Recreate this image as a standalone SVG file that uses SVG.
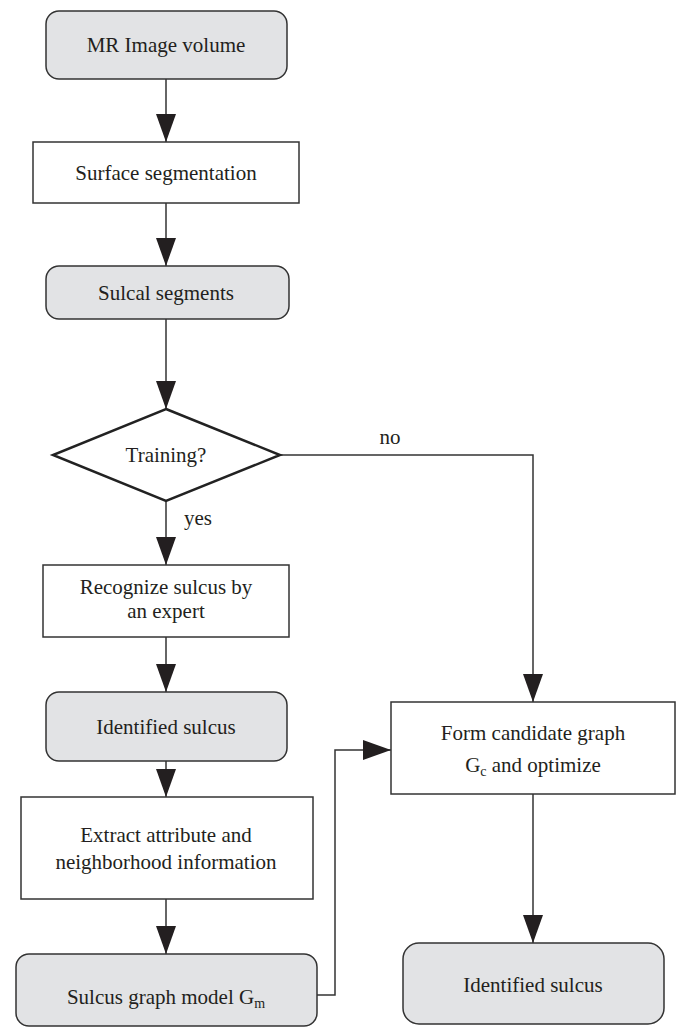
<svg xmlns="http://www.w3.org/2000/svg" width="680" height="1027" viewBox="0 0 680 1027">
<style>
.term{fill:#e2e3e5;stroke:#333;stroke-width:1.5}
.proc{fill:#fff;stroke:#333;stroke-width:1.5}
.dec{fill:#fff;stroke:#222;stroke-width:2.5}
text{font-family:'Liberation Serif','Times New Roman',Times,serif;font-size:21px;fill:#231f20;text-anchor:middle}
.sub{font-size:14px}
.edge{fill:none;stroke:#333;stroke-width:1.5}
</style>
<defs>
<marker id="ah" markerUnits="userSpaceOnUse" viewBox="0 -10 28 20" markerWidth="28" markerHeight="20" refX="28" refY="0" orient="auto">
<path d="M0,-10 L28,0 L0,10 z" fill="#231f20"/>
</marker>
</defs>
<rect width="680" height="1027" fill="#fff"/>
<g id="connectors">
<line class="edge" x1="166" y1="79" x2="166" y2="142" marker-end="url(#ah)"/>
<line class="edge" x1="166" y1="203" x2="166" y2="266" marker-end="url(#ah)"/>
<line class="edge" x1="166" y1="319" x2="166" y2="409" marker-end="url(#ah)"/>
<polyline class="edge" points="280,455 533,455 533,702" marker-end="url(#ah)"/>
<line class="edge" x1="166" y1="501" x2="166" y2="565" marker-end="url(#ah)"/>
<line class="edge" x1="166" y1="637" x2="166" y2="692" marker-end="url(#ah)"/>
<line class="edge" x1="166" y1="761" x2="166" y2="797" marker-end="url(#ah)"/>
<line class="edge" x1="166" y1="899" x2="166" y2="954" marker-end="url(#ah)"/>
<polyline class="edge" points="317,995 335,995 335,750 391,750" marker-end="url(#ah)"/>
<line class="edge" x1="533" y1="794" x2="533" y2="943" marker-end="url(#ah)"/>
<text x="390" y="444" font-family="Liberation Serif">no</text>
<text x="198" y="525" font-family="Liberation Serif">yes</text>
</g>
<g id="n1"><rect class="term" x="46" y="11" width="241" height="68" rx="13"/><text x="166" y="52">MR Image volume</text></g>
<g id="n2"><rect class="proc" x="33" y="142" width="266" height="61"/><text x="166" y="180">Surface segmentation</text></g>
<g id="n3"><rect class="term" x="46" y="266" width="243" height="53" rx="13"/><text x="166" y="300">Sulcal segments</text></g>
<g id="n4"><polygon class="dec" points="166,409 280,455 166,501 53,455"/><text x="166" y="462">Training?</text></g>
<g id="n5"><rect class="proc" x="43" y="565" width="246" height="72"/><text x="166" y="594">Recognize sulcus by</text><text x="166" y="618">an expert</text></g>
<g id="n6"><rect class="term" x="46" y="692" width="241" height="69" rx="13"/><text x="166" y="734">Identified sulcus</text></g>
<g id="n7"><rect class="proc" x="21" y="797" width="292" height="102"/><text x="166" y="842">Extract attribute and</text><text x="166" y="869">neighborhood information</text></g>
<g id="n8"><rect class="term" x="16" y="954" width="301" height="72" rx="13"/><text x="166" y="1004">Sulcus graph model G<tspan class="sub" dy="4">m</tspan></text></g>
<g id="n9"><rect class="proc" x="391" y="702" width="284" height="92"/><text x="533" y="740">Form candidate graph</text><text x="533" y="772">G<tspan class="sub" dy="4">c</tspan><tspan dy="-4"> and optimize</tspan></text></g>
<g id="n10"><rect class="term" x="403" y="943" width="261" height="81" rx="16"/><text x="533" y="992">Identified sulcus</text></g>
</svg>
